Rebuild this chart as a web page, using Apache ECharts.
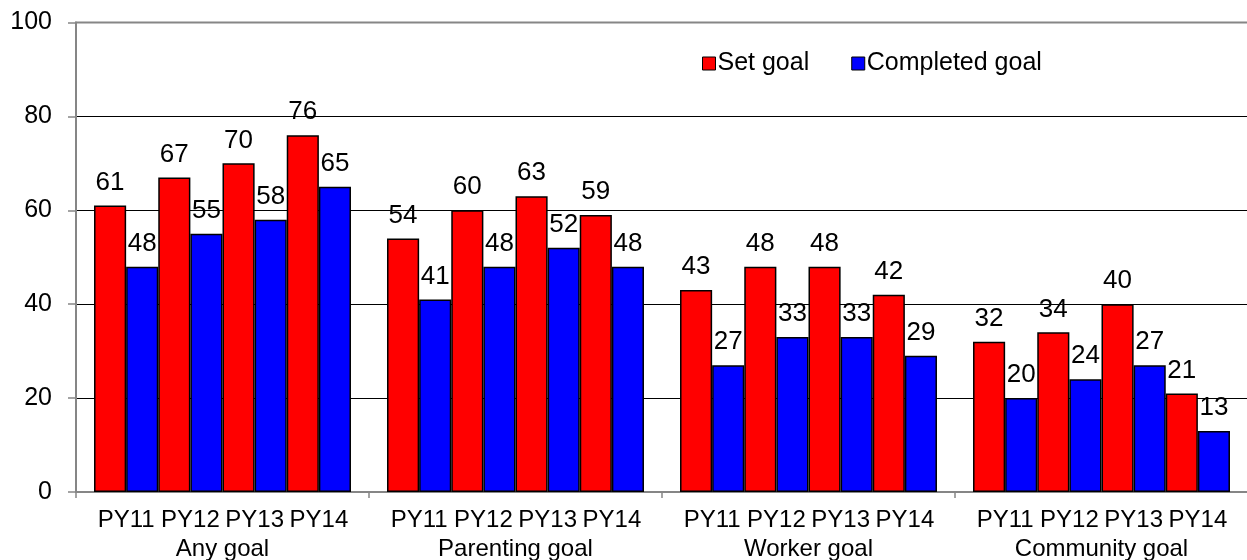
<!DOCTYPE html>
<html>
<head>
<meta charset="utf-8">
<script src="https://cdn.jsdelivr.net/npm/echarts@6/dist/echarts.min.js"></script>
<style>
html,body{margin:0;padding:0;background:#fff;}
#chart{width:1247px;height:560px;}
</style>
</head>
<body>
<div id="chart"></div>
<script>
const groups = ['Any goal', 'Parenting goal', 'Worker goal', 'Community goal'];
const years = ['PY11', 'PY12', 'PY13', 'PY14'];
const setGoal = [61, 67, 70, 76, 54, 60, 63, 59, 43, 48, 48, 42, 32, 34, 40, 21];
const completedGoal = [48, 55, 58, 65, 41, 48, 52, 48, 27, 33, 33, 29, 20, 24, 27, 13];
const yTicks = [0, 20, 40, 60, 80, 100];

const FONT = "'Liberation Sans', Arial, sans-serif";
const RED = '#FF0000', BLUE = '#0000FF', AXIS = '#868686';

function pick(arr, y) { return groups.map((g, gi) => arr[gi * years.length + y]); }

const labelCfg = {
  show: true, position: 'top', distance: 10,
  fontSize: 26, color: '#000', fontFamily: FONT
};

const series = [];
years.forEach((yr, y) => {
  series.push({
    name: 'Set goal', type: 'bar', data: pick(setGoal, y),
    barGap: '0%', barCategoryGap: '12.3%',
    itemStyle: { color: RED, borderColor: '#000', borderWidth: 1.5 },
    label: labelCfg, emphasis: { disabled: true }
  });
  series.push({
    name: 'Completed goal', type: 'bar', data: pick(completedGoal, y),
    barGap: '0%', barCategoryGap: '12.3%',
    itemStyle: { color: BLUE, borderColor: '#000', borderWidth: 1.5 },
    label: labelCfg, emphasis: { disabled: true }
  });
});

const pyLine = years.map(y => '{p|' + y + '}').join('');

const chart = echarts.init(document.getElementById('chart'), null, { renderer: 'canvas' });
chart.setOption({
  animation: false,
  textStyle: { fontFamily: FONT },
  grid: {
    left: 76, right: -1, top: 22.5, bottom: 68,
    outerBoundsMode: 'none', containLabel: false,
    show: true, borderColor: AXIS, borderWidth: 2, backgroundColor: 'transparent'
  },
  legend: {
    data: ['Set goal', 'Completed goal'],
    left: 697, top: 46,
    icon: 'rect', itemWidth: 13, itemHeight: 13, itemGap: 42,
    textStyle: { fontSize: 25, color: '#000', fontFamily: FONT, padding: [0, 0, 0, -3] },
    itemStyle: { borderColor: '#000', borderWidth: 1 },
    selectedMode: false
  },
  xAxis: {
    type: 'category',
    data: groups,
    axisLine: { show: true, lineStyle: { color: AXIS, width: 2 } },
    axisTick: { show: true, length: 6, lineStyle: { color: AXIS, width: 1.5 } },
    axisLabel: {
      interval: 0, margin: 14, color: '#000', fontFamily: FONT,
      formatter: function (v) { return pyLine + '\n{g|' + v + '}'; },
      rich: {
        p: { width: 64.25, align: 'center', fontSize: 24, lineHeight: 29, fontFamily: FONT, color: '#000' },
        g: { align: 'center', fontSize: 24, lineHeight: 29, fontFamily: FONT, color: '#000' }
      }
    },
    splitLine: { show: false }
  },
  yAxis: {
    type: 'value', min: yTicks[0], max: yTicks[yTicks.length - 1], interval: 20,
    axisLine: { show: true, lineStyle: { color: AXIS, width: 2 } },
    axisTick: { show: true, length: 8, lineStyle: { color: AXIS, width: 1.5 } },
    axisLabel: { fontSize: 25, color: '#000', margin: 24, fontFamily: FONT },
    splitLine: { show: true, showMinLine: false, showMaxLine: false, lineStyle: { color: '#000', width: 1 } }
  },
  series: series
});
</script>
</body>
</html>
